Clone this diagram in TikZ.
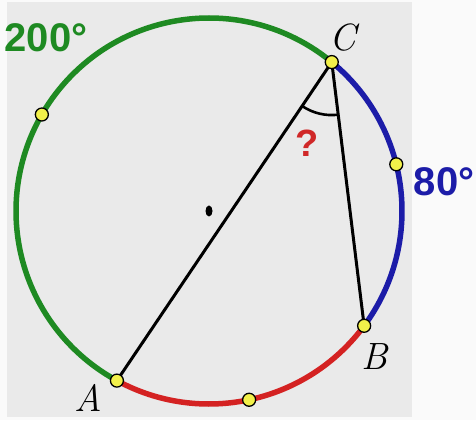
\documentclass[tikz,border=0pt]{standalone}
\usepackage{fontspec}
\newfontfamily\numfont{Liberation Sans}
\usetikzlibrary{calc}
\definecolor{bggray}{HTML}{EAEAEA}
\definecolor{outwhite}{HTML}{FAFAFA}
\definecolor{arcgreen}{HTML}{1E8A22}
\definecolor{arcblue}{HTML}{1C1CA8}
\definecolor{arcred}{HTML}{D42222}
\definecolor{dotyellow}{HTML}{F2F04A}
\definecolor{qred}{HTML}{D02828}
\begin{document}
\begin{tikzpicture}[x=1pt,y=1pt,
  arcline/.style={line width=5.5pt},
  chord/.style={line width=3pt, black},
  dot/.style={circle, draw=black, line width=1.3pt, fill=dotyellow, inner sep=0pt, minimum size=13pt},
  ptlabel/.style={font=\itshape\fontsize{38}{38}\selectfont, inner sep=0pt},
  deglabel/.style={font=\numfont\bfseries\fontsize{40}{40}\selectfont, inner sep=0pt}]
\useasboundingbox (0,0) rectangle (476,420);
\fill[outwhite] (0,0) rectangle (476,420);
\fill[bggray] (7,3) rectangle (412,418);
\coordinate (O) at (209,209);
\coordinate (A) at ([shift={(O)}]241.5:193);
\coordinate (B) at ([shift={(O)}]-36.5:193);
\coordinate (C) at ([shift={(O)}]50.5:193);
% arcs
\draw[arcline, arcgreen] (C) arc[start angle=50.5, end angle=241.5, radius=193pt];
\draw[arcline, arcblue] (B) arc[start angle=-36.5, end angle=50.5, radius=193pt];
\draw[arcline, arcred] (A) arc[start angle=-118.5, end angle=-36.5, radius=193pt];
% chords
\draw[chord] (C) -- (A);
\draw[chord] (C) -- (B);
% angle mark
\path let \p1=($(A)-(C)$), \p2=($(B)-(C)$), \n1={atan2(\y1,\x1)}, \n2={atan2(\y2,\x2)} in
  coordinate (M1) at ([shift={(C)}]\n1:53);
\draw[line width=2.6pt] let \p1=($(A)-(C)$), \p2=($(B)-(C)$), \n1={atan2(\y1,\x1)}, \n2={atan2(\y2,\x2)} in
  (M1) arc[start angle=\n1, end angle=\n2, radius=53pt];
% centre
\fill[black] (O) ellipse[x radius=3.5pt, y radius=5.5pt];
% points
\node[dot] (dA) at (A) {};
\node[dot] (dB) at (B) {};
\node[dot] (dC) at (C) {};
\node[dot] (dG) at ([shift={(O)}]150:193) {};
\node[dot] (dL) at ([shift={(O)}]14:193) {};
\node[dot] (dR) at ([shift={(O)}]-78:193) {};
% labels
\node[ptlabel] (lC) at (343,382) {C};
\node[ptlabel] (lB) at (375,63) {B};
\node[ptlabel] (lA) at (88,22) {A};
\node[deglabel, text=qred, font=\numfont\bfseries\fontsize{38}{38}\selectfont] (q) at (307,277) {?};
\node[deglabel, text=arcblue] (l80) at (444,238) {80°};
\node[deglabel, text=arcgreen] (l200) at (46,382) {200°};
\end{tikzpicture}
\end{document}
